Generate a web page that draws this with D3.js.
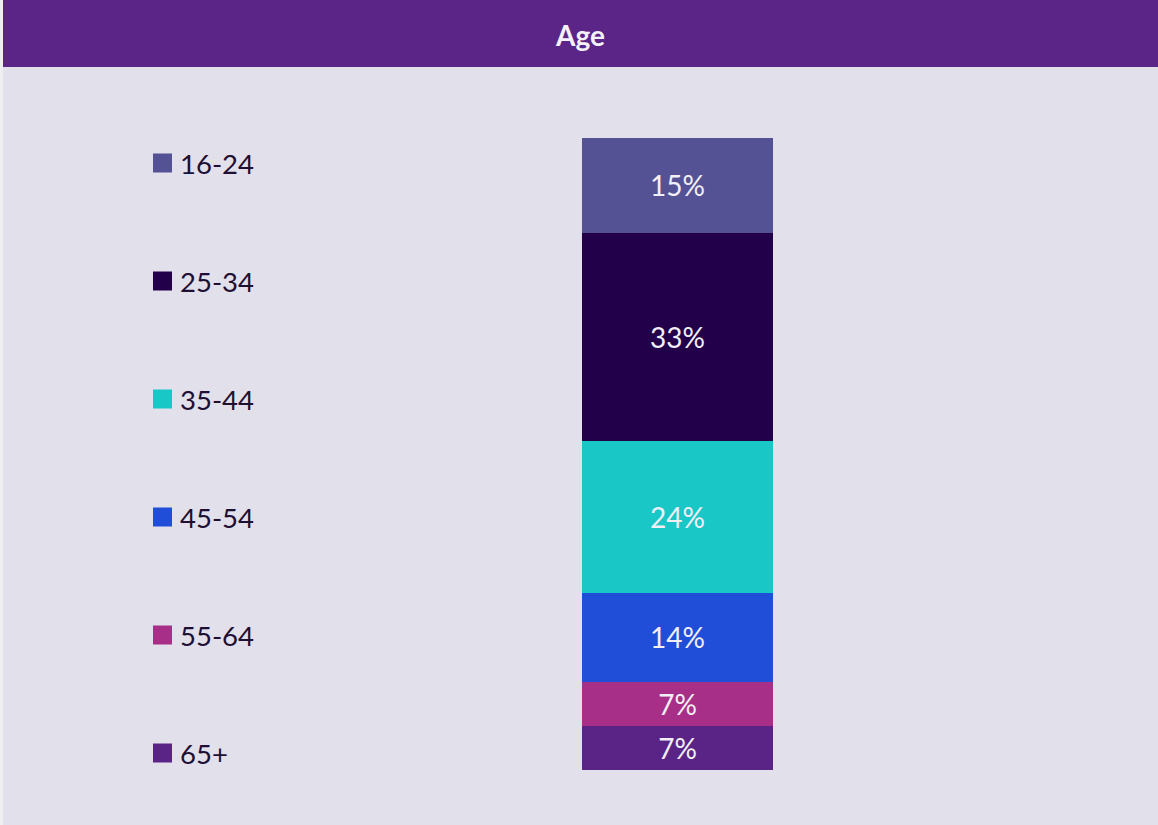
<!DOCTYPE html>
<html>
<head>
<meta charset="utf-8">
<script src="https://cdn.jsdelivr.net/npm/d3@7"></script>
<style>
  html, body { margin: 0; padding: 0; background: #efeff2; }
  svg { display: block; }
</style>
</head>
<body>
<script>
const title = "Age";
const categories = ["16-24", "25-34", "35-44", "45-54", "55-64", "65+"];
const values = [15, 33, 24, 14, 7, 7];
const colors = ["#545294", "#22004a", "#19c8c6", "#204ed8", "#a82f87", "#5a2487"];
const groupName = ["Age"];

const W = 1158, H = 825;
const svg = d3.select("body").append("svg").attr("width", W).attr("height", H);

// panel background
svg.append("rect").attr("x", 3).attr("y", 0).attr("width", W - 3).attr("height", H).attr("fill", "#e2e0eb");
// header
svg.append("rect").attr("x", 3).attr("y", 0).attr("width", W - 3).attr("height", 67).attr("fill", "#5b2487");
svg.append("text").attr("x", (3 + W) / 2).attr("y", 35).attr("text-anchor", "middle")
  .attr("dominant-baseline", "central")
  .attr("font-family", "Lato, 'Open Sans', sans-serif").attr("font-weight", 700)
  .attr("font-size", 28).attr("fill", "#f4f1f8").text(title);

// scales
const y = d3.scaleLinear().domain([0, d3.sum(values)]).range([138, 770]);
const x = d3.scaleBand().domain(groupName).range([582, 773]).padding(0);

const stacked = [];
let acc = 0;
values.forEach((v, i) => { stacked.push({ cat: categories[i], v, y0: acc, y1: acc + v, color: colors[i] }); acc += v; });

const g = svg.append("g");
g.selectAll("rect.seg").data(stacked).enter().append("rect")
  .attr("class", "seg")
  .attr("x", x("Age"))
  .attr("width", x.bandwidth())
  .attr("y", d => y(d.y0))
  .attr("height", d => y(d.y1) - y(d.y0))
  .attr("fill", d => d.color)
  .attr("shape-rendering", "crispEdges");

g.selectAll("text.lbl").data(stacked).enter().append("text")
  .attr("class", "lbl")
  .attr("x", x("Age") + x.bandwidth() / 2)
  .attr("y", d => (y(d.y0) + y(d.y1)) / 2)
  .attr("text-anchor", "middle")
  .attr("dominant-baseline", "central")
  .attr("font-family", "Lato, 'Open Sans', sans-serif")
  .attr("font-weight", 400)
  .attr("font-size", 28)
  .attr("fill", "#f2eff7")
  .text(d => d.v + "%");

// legend
const ly = d3.scalePoint().domain(categories).range([163, 753]);
const leg = svg.append("g").selectAll("g").data(stacked).enter().append("g")
  .attr("transform", d => `translate(153,${ly(d.cat)})`);
leg.append("rect").attr("x", 0).attr("y", -9.5).attr("width", 19).attr("height", 19).attr("fill", d => d.color);
leg.append("text").attr("x", 27).attr("y", 0).attr("dominant-baseline", "central")
  .attr("font-family", "Lato, 'Open Sans', sans-serif").attr("font-size", 27.5)
  .attr("fill", "#1e0f33").text(d => d.cat);
</script>
</body>
</html>
